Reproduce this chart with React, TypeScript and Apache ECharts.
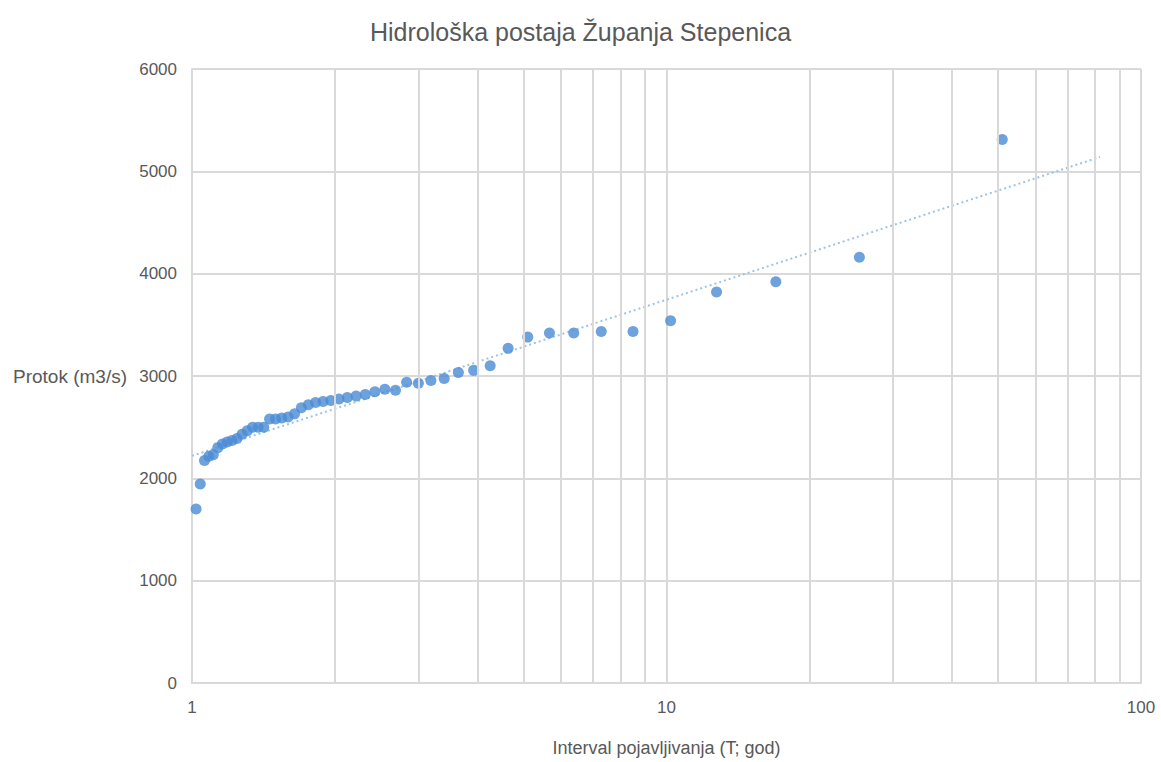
import React, { useEffect, useRef } from "react";
import * as echarts from "echarts";

// Return period T = 51 / rank (n = 50 annual maxima)
const ranks: number[] = Array.from({ length: 50 }, (_, i) => i + 1);
const returnPeriods: number[] = ranks.map((m) => 51 / m);

// Annual maximum discharge (m3/s), sorted descending (rank 1 = largest)
const discharge: number[] = [
  5310, 4160, 3920, 3820, 3540, 3435, 3435, 3420, 3420, 3380,
  3270, 3100, 3055, 3035, 2975, 2955, 2930, 2940, 2860, 2870,
  2845, 2820, 2805, 2790, 2775, 2760, 2750, 2740, 2720, 2690,
  2630, 2600, 2590, 2580, 2580, 2500, 2500, 2500, 2465, 2430,
  2390, 2370, 2355, 2335, 2300, 2230, 2215, 2175, 1945, 1700,
];

// Logarithmic trend line end points
const trendT: number[] = [1, 82];
const trendQ: number[] = [2220, 5140];

// Minor log grid positions
const minorGridT: number[] = [2, 3, 4, 5, 6, 7, 8, 9, 20, 30, 40, 50, 60, 70, 80, 90];

const yTicks = { min: 0, max: 6000, interval: 1000 };

const TITLE = "Hidrološka postaja Županja Stepenica";
const X_NAME = "Interval pojavljivanja (T; god)";
const Y_NAME = "Protok (m3/s)";

const FONT = "'Liberation Sans', Arial, sans-serif";
const TEXT_COLOR = "#595959";
const GRID_COLOR = "#d9d9d9";

export default function App() {
  const ref = useRef<HTMLDivElement>(null);
  useEffect(() => {
    if (!ref.current) return;
    const chart = echarts.init(ref.current, undefined, { renderer: "svg" });
    const points = returnPeriods.map((t, i) => [t, discharge[i]]);
    const trend = trendT.map((t, i) => [t, trendQ[i]]);
    chart.setOption({
      animation: false,
      backgroundColor: "#ffffff",
      textStyle: { fontFamily: FONT },
      title: {
        text: TITLE,
        left: "center",
        top: 14,
        textStyle: { fontFamily: FONT, fontSize: 25, fontWeight: "normal", color: TEXT_COLOR },
      },
      grid: { left: 192, width: 949, top: 69, height: 625, containLabel: false },
      xAxis: {
        type: "log",
        logBase: 10,
        min: 1,
        max: 100,
        name: X_NAME,
        nameLocation: "middle",
        nameGap: 56,
        nameTextStyle: { fontFamily: FONT, fontSize: 18, color: TEXT_COLOR },
        axisLine: { show: true, lineStyle: { color: GRID_COLOR, width: 2 } },
        axisTick: { show: false },
        axisLabel: { fontFamily: FONT, fontSize: 17, color: TEXT_COLOR, margin: 16 },
        splitLine: { show: true, lineStyle: { color: GRID_COLOR, width: 2 } },
      },
      yAxis: {
        type: "value",
        min: yTicks.min,
        max: yTicks.max,
        interval: yTicks.interval,
        name: Y_NAME,
        nameLocation: "middle",
        nameRotate: 0,
        nameGap: 122,
        nameTextStyle: { fontFamily: FONT, fontSize: 19, color: TEXT_COLOR, align: "center", verticalAlign: "middle" },
        axisLine: { show: true, lineStyle: { color: GRID_COLOR, width: 2 } },
        axisTick: { show: false },
        axisLabel: {
          fontFamily: FONT,
          fontSize: 17,
          color: TEXT_COLOR,
          margin: 15,
          formatter: (v: number) => String(v),
        },
        splitLine: { show: true, lineStyle: { color: GRID_COLOR, width: 2 } },
      },
      series: [
        {
          type: "line",
          name: "grid",
          data: [],
          silent: true,
          markLine: {
            silent: true,
            symbol: ["none", "none"],
            label: { show: false },
            lineStyle: { color: GRID_COLOR, width: 2, type: "solid" },
            data: minorGridT.map((t) => ({ xAxis: t })),
          },
        },
        {
          type: "line",
          name: "trend",
          data: trend,
          showSymbol: false,
          symbol: "none",
          lineStyle: { color: "#9dc3e6", width: 2, type: [2, 3] },
          z: 3,
        },
        {
          type: "scatter",
          name: "Q",
          data: points,
          symbol: "circle",
          symbolSize: 11,
          itemStyle: { color: "#4a8bd4" },
          z: 4,
        },
      ],
    });
    return () => chart.dispose();
  }, []);
  return (
    <div
      ref={ref}
      style={{ position: "absolute", left: 0, top: 0, width: 1161, height: 762 }}
    />
  );
}
